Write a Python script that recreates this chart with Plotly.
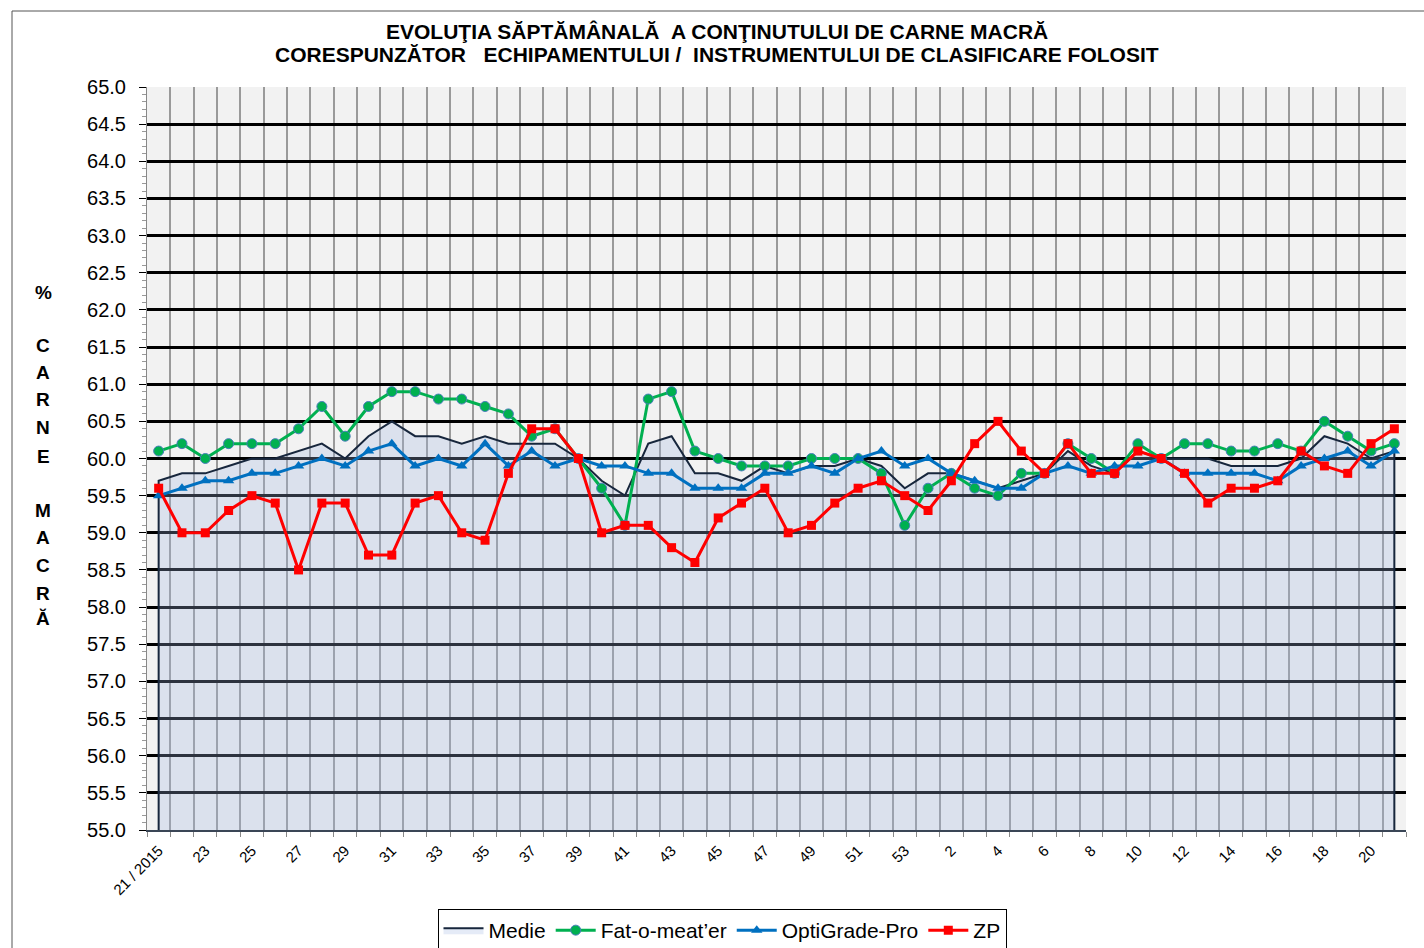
import plotly.graph_objects as go

# ---------------- data ----------------
weeks = (["21 / 2015"] + [str(w) for w in range(22, 54)] + [str(w) for w in range(1, 22)])

medie = [59.7, 59.8, 59.8, 59.9, 60.0, 60.0, 60.1, 60.2, 60.0, 60.3,
         60.5, 60.3, 60.3, 60.2, 60.3, 60.2, 60.2, 60.2, 60.0, 59.7,
         59.5, 60.2, 60.3, 59.8, 59.8, 59.7, 59.9, 59.8, 59.9, 59.9,
         60.0, 59.9, 59.6, 59.8, 59.8, 59.7, 59.6, 59.7, 59.8, 60.1,
         59.9, 59.8, 60.1, 60.0, 60.0, 60.0, 59.9, 59.9, 59.9, 60.0,
         60.3, 60.2, 60.0, 60.1]

fat_o_meater = [60.1, 60.2, 60.0, 60.2, 60.2, 60.2, 60.4, 60.7, 60.3, 60.7,
                60.9, 60.9, 60.8, 60.8, 60.7, 60.6, 60.3, 60.4, 60.0, 59.6,
                59.1, 60.8, 60.9, 60.1, 60.0, 59.9, 59.9, 59.9, 60.0, 60.0,
                60.0, 59.8, 59.1, 59.6, 59.8, 59.6, 59.5, 59.8, 59.8, 60.2,
                60.0, 59.8, 60.2, 60.0, 60.2, 60.2, 60.1, 60.1, 60.2, 60.1,
                60.5, 60.3, 60.1, 60.2]

optigrade = [59.5, 59.6, 59.7, 59.7, 59.8, 59.8, 59.9, 60.0, 59.9, 60.1,
             60.2, 59.9, 60.0, 59.9, 60.2, 59.9, 60.1, 59.9, 60.0, 59.9,
             59.9, 59.8, 59.8, 59.6, 59.6, 59.6, 59.8, 59.8, 59.9, 59.8,
             60.0, 60.1, 59.9, 60.0, 59.8, 59.7, 59.6, 59.6, 59.8, 59.9,
             59.8, 59.9, 59.9, 60.0, 59.8, 59.8, 59.8, 59.8, 59.7, 59.9,
             60.0, 60.1, 59.9, 60.1]

zp = [59.6, 59.0, 59.0, 59.3, 59.5, 59.4, 58.5, 59.4, 59.4, 58.7,
      58.7, 59.4, 59.5, 59.0, 58.9, 59.8, 60.4, 60.4, 60.0, 59.0,
      59.1, 59.1, 58.8, 58.6, 59.2, 59.4, 59.6, 59.0, 59.1, 59.4,
      59.6, 59.7, 59.5, 59.3, 59.7, 60.2, 60.5, 60.1, 59.8, 60.2,
      59.8, 59.8, 60.1, 60.0, 59.8, 59.4, 59.6, 59.6, 59.7, 60.1,
      59.9, 59.8, 60.2, 60.4]

tick_text = [w if i % 2 == 0 else "" for i, w in enumerate(weeks)]
Y_MIN, Y_MAX = 55.0, 65.0

FONT = "Arial, Liberation Sans, sans-serif"

# ---------------- figure ----------------
fig = go.Figure()

# area (closed down to the axis minimum so the vertical edges are drawn)
fig.add_trace(go.Scatter(
    x=[weeks[0]] + weeks + [weeks[-1]],
    y=[Y_MIN] + medie + [Y_MIN],
    name="Medie", mode="lines", fill="toself",
    fillcolor="rgba(160,182,225,0.28)",
    line=dict(color="#17263C", width=2),
))
fig.add_trace(go.Scatter(
    x=weeks, y=fat_o_meater, name="Fat-o-meat\u2019er", mode="lines+markers",
    line=dict(color="#00B050", width=3),
    marker=dict(symbol="circle", size=10, color="#00B050",
                line=dict(color="#4A7EBB", width=1)),
))
fig.add_trace(go.Scatter(
    x=weeks, y=optigrade, name="OptiGrade-Pro", mode="lines+markers",
    line=dict(color="#0070C0", width=3),
    marker=dict(symbol="triangle-up", size=10, color="#0070C0"),
))
fig.add_trace(go.Scatter(
    x=weeks, y=zp, name="ZP", mode="lines+markers",
    line=dict(color="#FF0000", width=3),
    marker=dict(symbol="square", size=9, color="#FF0000"),
))

W, H = 1424, 948
ML, MR, MT, MB = 147, 18, 87, 118
PW, PH = W - ML - MR, H - MT - MB


def px_x(x):
    return (x - ML) / PW


def px_y(y):
    return (H - MB - y) / PH


# vertical y-axis title letters
letters = [("%", 292), ("C", 345), ("A", 372), ("R", 399), ("N", 427), ("E", 456),
           ("M", 510), ("A", 537), ("C", 565), ("R", 593), ("\u0102", 618)]
annotations = [dict(text="<b>%s</b>" % t, x=px_x(43), y=px_y(yy), xref="paper", yref="paper",
                    xanchor="center", yanchor="middle", showarrow=False,
                    font=dict(family=FONT, size=19, color="black"))
               for t, yy in letters]

nb = "\u00a0"
title_lines = [
    ("EVOLU\u0162IA S\u0102PT\u0102M\u00c2NAL\u0102" + nb + nb + "A CON\u0162INUTULUI DE CARNE MACR\u0102", 31),
    ("CORESPUNZ\u0102TOR" + nb * 3 + "ECHIPAMENTULUI" + nb + "/" + nb + nb +
     "INSTRUMENTULUI DE CLASIFICARE FOLOSIT", 55),
]
for txt, yy in title_lines:
    annotations.append(dict(text="<b>%s</b>" % txt, x=px_x(717), y=px_y(yy), xref="paper", yref="paper",
                            xanchor="center", yanchor="middle", showarrow=False,
                            font=dict(family=FONT, size=21, color="black")))

fig.update_layout(
    width=W, height=H,
    margin=dict(l=ML, r=MR, t=MT, b=MB, autoexpand=False),
    paper_bgcolor="white",
    plot_bgcolor="#F2F2F2",
    font=dict(family=FONT, color="black"),
    showlegend=True,
    legend=dict(orientation="h", x=px_x(722), xanchor="center", y=px_y(909), yanchor="top",
                bgcolor="white", bordercolor="black", borderwidth=1,
                font=dict(family=FONT, size=21, color="black"),
                itemwidth=40, traceorder="normal"),
    annotations=annotations,
    shapes=[dict(type="rect", xref="paper", yref="paper",
                 x0=px_x(12), x1=px_x(1440), y0=px_y(960), y1=px_y(11),
                 line=dict(color="#555555", width=1), fillcolor="rgba(0,0,0,0)", layer="below")],
)

fig.update_xaxes(
    type="category", categoryorder="array", categoryarray=weeks,
    range=[-0.5, len(weeks) - 0.5],
    tickmode="array", tickvals=weeks, ticktext=tick_text,
    tickson="boundaries", tickangle=-45,
    ticks="outside", ticklen=5, tickcolor="#888888",
    showgrid=True, gridcolor="#9A9A9A", gridwidth=2,
    showline=True, linecolor="#3A4656", linewidth=2,
    tickfont=dict(family=FONT, size=15, color="black"),
    ticklabelstandoff=4,
    zeroline=False,
)
fig.update_yaxes(
    range=[Y_MIN, Y_MAX], dtick=0.5, tick0=55, tickformat=".1f",
    ticks="outside", ticklen=7, tickcolor="black", tickwidth=1,
    showgrid=True, gridcolor="black", gridwidth=2.5,
    showline=True, linecolor="#888888", linewidth=1,
    tickfont=dict(family=FONT, size=20, color="black"),
    ticklabelstandoff=9,
    minor=dict(dtick=0.1, ticks="outside", ticklen=4, tickcolor="#999999", showgrid=False),
    zeroline=False,
)

fig.write_html("out.html", config={"displayModeBar": False},
               post_script="document.body.style.margin='0';")
